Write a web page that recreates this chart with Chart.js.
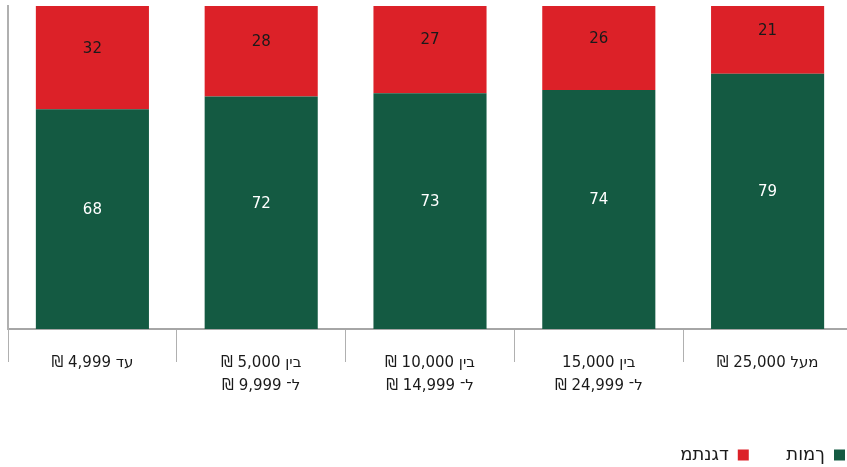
<!DOCTYPE html>
<html>
<head>
<meta charset="utf-8">
<script src="https://cdn.jsdelivr.net/npm/chart.js@4/dist/chart.umd.min.js"></script>
<style>
html,body{margin:0;padding:0;background:#fff;overflow:hidden;width:847px;height:467px;}
#wrap{width:852px;height:474px;}
canvas{direction:rtl;}
</style>
</head>
<body>
<div id="wrap"><canvas id="c" width="852" height="474" dir="rtl"></canvas></div>
<script>
const categories = [
  ["עד 4,999 ₪"],
  ["בין 5,000 ₪", "ל־ 9,999 ₪"],
  ["בין 10,000 ₪", "ל־ 14,999 ₪"],
  ["בין 15,000", "ל־ 24,999 ₪"],
  ["מעל 25,000 ₪"]
];
const seriesNames = ["תומך", "מתנגד"];
const supportValues = [68, 72, 73, 74, 79];
const opposeValues = [32, 28, 27, 26, 21];

const FONT = "'DejaVu Sans', sans-serif";
const GREEN = '#145a42';
const RED = '#dc2128';

const valueLabels = {
  id: 'valueLabels',
  afterDatasetsDraw(chart) {
    const ctx = chart.ctx;
    ctx.save();
    ctx.font = '15px ' + FONT;
    ctx.textAlign = 'center';
    ctx.textBaseline = 'middle';
    chart.data.datasets.forEach((ds, di) => {
      const meta = chart.getDatasetMeta(di);
      meta.data.forEach((bar, i) => {
        const p = bar.getProps(['x', 'y', 'base'], true);
        ctx.fillStyle = di === 0 ? '#ffffff' : '#1a1a1a';
        ctx.fillText(String(ds.data[i]), p.x, (p.y + p.base) / 2 - 9);
      });
    });
    ctx.restore();
  }
};

new Chart(document.getElementById('c'), {
  type: 'bar',
  data: {
    labels: categories,
    datasets: [
      { label: seriesNames[0], data: supportValues, backgroundColor: GREEN, borderWidth: 0 },
      { label: seriesNames[1], data: opposeValues, backgroundColor: RED, borderWidth: 0 }
    ]
  },
  options: {
    responsive: false,
    animation: false,
    layout: { padding: { top: 6, left: 0, right: 0, bottom: 0 } },
    datasets: { bar: { categoryPercentage: 1, barPercentage: 0.67 } },
    plugins: {
      tooltip: { enabled: false },
      legend: {
        position: 'bottom',
        align: 'start',
        rtl: true,
        textDirection: 'rtl',
        labels: {
          boxWidth: 11,
          boxHeight: 11,
          padding: 7,
          color: '#1a1a1a',
          font: { size: 18, family: FONT, lineHeight: 1.0667 },
          generateLabels(chart) {
            const items = Chart.defaults.plugins.legend.labels.generateLabels(chart);
            items.forEach((it, i) => {
              it.text = '\u202D' + (i === 0 ? '\u2003\u2002\u2009' : '') + it.text;
            });
            return items;
          }
        }
      }
    },
    scales: {
      x: {
        stacked: true,
        grid: {
          offset: true,
          drawOnChartArea: false,
          drawTicks: true,
          tickLength: 33,
          color: '#b0b0b0',
          lineWidth: 1
        },
        border: { display: true, color: '#a6a6a6', width: 2 },
        ticks: {
          color: '#1a1a1a',
          padding: -10,
          maxRotation: 0,
          autoSkip: false,
          font: { size: 15, family: FONT, lineHeight: 1.533 }
        },
        afterFit(scale) { scale.height = 110; }
      },
      y: {
        stacked: true,
        min: 0,
        max: 100,
        display: true,
        grid: { display: false },
        border: { display: true, color: '#b0b0b0', width: 2 },
        ticks: { display: false }
      }
    }
  },
  plugins: [valueLabels]
});
</script>
</body>
</html>
